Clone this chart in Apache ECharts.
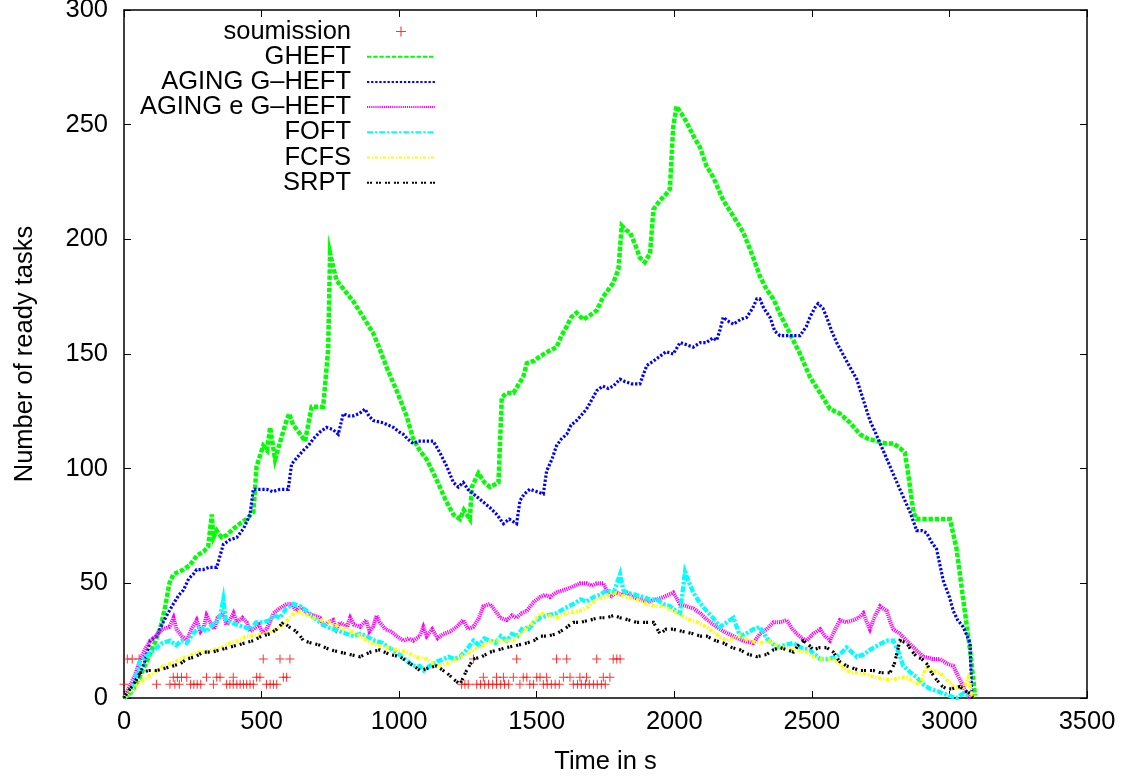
<!DOCTYPE html>
<html>
<head>
<meta charset="utf-8">
<script src="https://cdn.jsdelivr.net/npm/echarts@6/dist/echarts.min.js"></script>
<style>
html,body{margin:0;padding:0;background:#fff;}
#chart{width:1127px;height:776px;}
</style>
</head>
<body>
<div id="chart"></div>
<script>
const seriesNames = ['soumission', 'GHEFT', 'AGING G\u2013HEFT', 'AGING e G\u2013HEFT', 'FOFT', 'FCFS', 'SRPT'];
const xTicks = [0, 500, 1000, 1500, 2000, 2500, 3000, 3500];
const yTicks = [0, 50, 100, 150, 200, 250, 300];

const soumission = [
  [12,17],[30,17],[55,17],[72,17],[506,17],[567,17],[603,17],[1270,17],[1427,17],[1572,17],[1609,17],[1718,17],[1778,17],[1791,17],[1803,17],
  [179,9],[194,9],[209,9],[228,9],[300,9],[337,9],[349,9],[397,9],[482,9],[494,9],[579,9],[591,9],[1306,9],[1354,9],[1379,9],[1415,9],[1451,9],[1464,9],[1500,9],[1512,9],[1536,9],[1597,9],[1621,9],[1657,9],[1681,9],[1742,9],[1766,9],
  [0,6],[118,6],[167,6],[185,6],[201,6],[242,6],[254,6],[266,6],[279,6],[325,6],[373,6],[385,6],[397,6],[410,6],[422,6],[434,6],[446,6],[458,6],[470,6],[518,6],[531,6],[543,6],[555,6],
  [1227,6],[1239,6],[1251,6],[1282,6],[1296,6],[1311,6],[1325,6],[1340,6],[1354,6],[1369,6],[1383,6],[1398,6],[1439,6],[1475,6],[1488,6],[1524,6],[1538,6],[1553,6],[1567,6],[1582,6],[1633,6],[1648,6],[1662,6],[1677,6],[1691,6],[1706,6],[1720,6],[1735,6],[1749,6]
];

const gheft = [[0,0],[30,3],[60,10],[90,18],[115,25],[135,32],[150,40],[165,50],[180,54],[216,56],[240,58],[264,62],[290,64],[306,66],[319,80],[325,70],[337,73],[355,70],[373,71],[400,74],[421,76],[445,78],[470,81],[482,101],[506,110],[520,108],[531,118],[549,104],[573,114],[591,121],[600,124],[615,119],[635,116],[658,112],[682,127],[724,127],[742,152],[749,194],[760,188],[773,182],[800,178],[833,173],[870,166],[906,159],[930,152],[955,144],[991,134],[1027,123],[1051,113],[1075,108],[1100,104],[1125,98],[1148,92],[1170,86],[1197,80],[1221,78],[1235,82],[1257,78],[1264,92],[1288,98],[1310,94],[1330,92],[1361,94],[1373,131],[1390,133],[1415,133],[1451,140],[1464,146],[1490,147],[1512,149],[1540,151],[1572,153],[1590,158],[1609,162],[1625,166],[1645,168],[1669,165],[1695,167],[1718,169],[1742,175],[1760,178],[1778,181],[1797,187],[1809,206],[1825,204],[1839,203],[1860,197],[1875,192],[1893,190],[1912,194],[1924,213],[1948,217],[1972,220],[1984,222],[1996,249],[2008,258],[2025,255],[2045,251],[2070,245],[2094,240],[2117,232],[2142,227],[2178,217],[2215,210],[2251,203],[2287,192],[2311,184],[2336,178],[2360,174],[2390,166],[2420,159],[2457,150],[2493,140],[2530,133],[2566,126],[2602,124],[2639,120],[2675,115],[2705,113],[2736,112],[2770,111],[2796,111],[2820,109],[2838,107],[2851,97],[2869,81],[2880,78],[2905,78],[2950,78],[3002,78],[3026,65],[3050,43],[3075,21],[3093,1]];

const agingGheft = [[0,0],[30,5],[55,10],[76,16],[95,25],[119,27],[142,33],[160,37],[179,41],[200,45],[216,47],[235,52],[252,54],[264,56],[288,56],[310,57],[337,57],[361,67],[385,69],[410,70],[435,74],[458,80],[470,91],[494,91],[518,91],[540,90],[567,91],[597,91],[609,102],[630,105],[652,108],[670,110],[688,113],[712,116],[736,118],[760,117],[779,115],[797,124],[815,123],[833,123],[855,124],[876,126],[890,123],[906,121],[942,120],[979,118],[1000,116],[1015,115],[1030,113],[1051,111],[1070,112],[1088,112],[1124,112],[1148,107],[1173,101],[1197,94],[1215,92],[1233,94],[1250,91],[1270,89],[1300,86],[1330,83],[1355,80],[1379,76],[1400,78],[1427,76],[1439,86],[1455,89],[1475,91],[1500,90],[1524,89],[1536,99],[1555,104],[1572,110],[1590,113],[1609,115],[1625,119],[1645,121],[1660,123],[1681,126],[1700,130],[1718,134],[1740,136],[1760,135],[1778,136],[1803,139],[1820,138],[1845,137],[1875,137],[1900,145],[1925,147],[1948,149],[1970,151],[1996,150],[2021,155],[2045,154],[2069,153],[2095,155],[2117,155],[2140,157],[2154,156],[2165,160],[2178,166],[2200,164],[2215,163],[2240,165],[2263,166],[2285,170],[2300,174],[2311,174],[2325,170],[2348,166],[2365,160],[2384,158],[2420,158],[2457,158],[2480,162],[2493,166],[2510,170],[2523,172],[2540,170],[2554,166],[2572,160],[2590,155],[2626,147],[2663,139],[2687,130],[2711,121],[2730,116],[2748,111],[2784,101],[2820,91],[2857,81],[2881,73],[2900,73],[2917,72],[2935,68],[2953,65],[2978,51],[3000,44],[3014,38],[3030,34],[3050,31],[3075,24],[3081,1]];

const agingEGheft = [[0,0],[20,5],[40,10],[60,17],[80,22],[95,25],[115,27],[140,30],[165,31],[180,35],[191,30],[210,27],[228,25],[245,30],[264,34],[278,29],[290,31],[300,36],[313,33],[327,30],[340,35],[360,37],[372,32],[385,34],[398,37],[410,33],[430,35],[446,33],[458,29],[470,30],[490,32],[505,28],[518,30],[530,33],[543,37],[565,39],[591,41],[610,41],[625,38],[640,40],[665,37],[690,36],[712,35],[727,31],[740,33],[760,34],[772,30],[785,33],[810,31],[822,35],[835,32],[858,31],[880,34],[892,29],[905,31],[918,36],[930,33],[950,30],[970,29],[991,27],[1015,25],[1035,26],[1051,25],[1075,27],[1088,31],[1100,27],[1120,30],[1140,26],[1161,28],[1185,29],[1209,31],[1233,34],[1250,30],[1270,31],[1290,35],[1306,40],[1330,41],[1350,38],[1367,35],[1391,34],[1410,36],[1427,35],[1445,37],[1464,38],[1490,42],[1512,44],[1530,45],[1548,44],[1570,46],[1597,47],[1620,48],[1640,49],[1657,50],[1680,50],[1700,49],[1718,50],[1742,50],[1766,44],[1790,46],[1810,45],[1827,46],[1850,44],[1875,43],[1900,42],[1936,43],[1960,44],[1996,46],[2021,41],[2045,40],[2070,39],[2094,37],[2120,34],[2154,31],[2180,29],[2215,27],[2250,25],[2287,24],[2311,28],[2336,30],[2360,33],[2384,33],[2408,34],[2430,30],[2445,28],[2465,26],[2481,25],[2505,28],[2530,30],[2548,27],[2566,25],[2585,30],[2602,34],[2625,33],[2651,34],[2670,35],[2687,37],[2700,33],[2711,30],[2730,36],[2748,40],[2760,39],[2772,38],[2785,33],[2796,30],[2820,28],[2845,25],[2870,22],[2905,18],[2940,17],[2966,17],[2990,15],[3014,14],[3038,8],[3062,2],[3075,0]];

const foft = [[0,0],[22,2],[40,8],[58,16],[80,18],[100,20],[119,22],[140,24],[167,25],[190,23],[210,25],[228,24],[250,28],[276,31],[300,29],[320,32],[337,33],[350,36],[361,43],[370,34],[385,33],[410,32],[434,31],[460,30],[480,33],[506,33],[530,34],[545,36],[567,35],[590,39],[615,41],[640,40],[664,38],[690,35],[712,33],[736,31],[760,30],[785,29],[809,28],[835,27],[860,28],[882,27],[910,25],[940,24],[960,22],[979,21],[1000,19],[1020,17],[1051,14],[1075,14],[1090,12],[1112,14],[1140,16],[1161,17],[1180,18],[1200,17],[1221,18],[1245,21],[1270,25],[1290,23],[1310,26],[1330,25],[1350,24],[1370,27],[1391,25],[1410,28],[1430,27],[1451,31],[1470,30],[1490,33],[1512,35],[1540,36],[1572,37],[1600,39],[1633,41],[1660,43],[1680,42],[1706,44],[1730,45],[1754,47],[1780,46],[1803,54],[1815,47],[1827,46],[1860,45],[1888,44],[1910,43],[1936,43],[1960,41],[1984,40],[2005,38],[2021,37],[2039,55],[2055,50],[2069,46],[2090,42],[2117,38],[2140,35],[2166,31],[2190,33],[2215,35],[2239,27],[2260,28],[2287,30],[2311,31],[2336,26],[2355,24],[2372,22],[2400,23],[2433,24],[2460,22],[2493,21],[2510,19],[2530,17],[2560,17],[2590,18],[2610,20],[2626,22],[2645,20],[2663,18],[2690,19],[2711,21],[2740,23],[2772,25],[2796,25],[2815,20],[2832,14],[2860,11],[2881,9],[2905,6],[2929,4],[2955,3],[2978,2],[3000,1],[3026,0],[3050,2],[3070,1]];

const fcfs = [[0,0],[22,3],[50,6],[82,9],[110,11],[143,14],[170,15],[203,17],[230,18],[264,20],[295,20],[325,21],[355,22],[385,24],[415,25],[446,27],[475,27],[506,28],[535,29],[567,31],[595,34],[627,38],[650,37],[688,35],[715,34],[749,33],[780,31],[809,30],[845,28],[882,25],[920,23],[955,22],[990,21],[1027,20],[1060,18],[1100,17],[1125,15],[1148,14],[1173,15],[1195,16],[1221,18],[1245,19],[1270,21],[1305,23],[1342,25],[1380,25],[1415,25],[1450,29],[1488,33],[1512,37],[1540,36],[1572,35],[1610,37],[1657,38],[1690,40],[1718,43],[1750,44],[1778,46],[1800,45],[1827,44],[1860,43],[1900,41],[1930,40],[1960,40],[1996,38],[2025,36],[2057,34],[2085,33],[2117,31],[2150,28],[2190,25],[2215,26],[2239,27],[2270,25],[2311,24],[2348,25],[2384,22],[2433,21],[2481,20],[2505,18],[2530,17],[2578,17],[2600,15],[2626,12],[2650,11],[2675,11],[2705,10],[2736,9],[2765,8],[2796,8],[2820,9],[2845,9],[2870,7],[2893,6],[2917,14],[2940,12],[2966,11],[2990,8],[3014,5],[3050,4],[3069,9],[3080,2],[3093,0]];

const srpt = [[0,0],[10,2],[35,6],[58,11],[90,12],[119,12],[150,13],[179,14],[205,15],[228,17],[260,18],[288,20],[320,20],[349,21],[380,22],[410,23],[440,24],[470,25],[500,27],[531,28],[555,30],[579,33],[600,31],[615,30],[635,28],[652,25],[680,24],[712,23],[750,21],[785,20],[820,19],[858,18],[895,20],[930,21],[965,19],[1003,18],[1040,15],[1076,12],[1105,13],[1136,14],[1160,12],[1173,11],[1200,8],[1221,6],[1245,12],[1270,17],[1300,18],[1330,20],[1360,21],[1391,22],[1430,23],[1464,24],[1490,25],[1512,27],[1540,27],[1572,28],[1600,30],[1633,33],[1660,33],[1694,34],[1725,35],[1754,35],[1780,36],[1803,35],[1835,34],[1863,33],[1895,33],[1924,33],[1948,28],[1970,30],[1996,30],[2030,29],[2069,28],[2095,27],[2117,27],[2150,25],[2178,24],[2210,22],[2239,21],[2270,19],[2300,18],[2336,19],[2360,21],[2384,22],[2410,21],[2433,20],[2450,23],[2469,25],[2490,23],[2505,21],[2530,22],[2554,22],[2578,20],[2600,16],[2626,14],[2650,13],[2675,12],[2700,12],[2723,12],[2750,11],[2784,11],[2800,15],[2820,25],[2845,24],[2860,21],[2881,18],[2900,17],[2917,15],[2935,11],[2953,8],[2975,5],[2990,4],[3010,4],[3038,5],[3060,3],[3075,2],[3085,0]];

const FONT = "'Liberation Sans', Arial, Helvetica, sans-serif";
const FS = 25.5;
const chart = echarts.init(document.getElementById('chart'), null, {renderer: 'canvas'});

function lineSeries(name, data, color, width, dash) {
  return {
    name: name, type: 'line', data: data, showSymbol: false, symbol: 'none',
    lineStyle: {color: color, width: width, type: dash, cap: 'butt', join: 'miter'},
    itemStyle: {color: color}, animation: false, z: 2
  };
}
const plusPath = 'path://M4,0h1v4h4v1h-4v4h-1v-4h-4v-1h4z';

const axisCommon = {
  axisLine: {show: true, onZero: false, lineStyle: {color: '#000', width: 1.5}},
  axisTick: {show: true, inside: true, length: 7, lineStyle: {color: '#000', width: 1}},
  splitLine: {show: false}
};

const legendData = seriesNames.map((n, i) => i === 0 ? {name: n} : {name: n, itemStyle: {opacity: 0}});

chart.setOption({
  animation: false,
  backgroundColor: '#fff',
  textStyle: {fontFamily: FONT},
  grid: {left: 124, top: 10, width: 963, height: 688, containLabel: false, outerBoundsMode: 'none'},
  legend: {
    orient: 'vertical', left: 116, top: 13.5, align: 'right',
    itemWidth: 68, itemHeight: 10, itemGap: -0.8,
    data: legendData,
    textStyle: {fontFamily: FONT, fontSize: FS, color: '#000', width: 230, lineHeight: 24.2, padding: [0, 11, 0, 0]},
    selectedMode: false
  },
  xAxis: [
    Object.assign({type: 'value', min: 0, max: 3500, interval: 500, position: 'bottom',
      name: 'Time in s', nameLocation: 'middle', nameGap: 51,
      nameTextStyle: {fontFamily: FONT, fontSize: FS, color: '#000'},
      axisLabel: {fontFamily: FONT, fontSize: FS, color: '#000', margin: 11,
        customValues: xTicks, formatter: v => String(v)}}, axisCommon),
    Object.assign({type: 'value', min: 0, max: 3500, interval: 500, position: 'top',
      axisLabel: {show: false}}, axisCommon)
  ],
  yAxis: [
    Object.assign({type: 'value', min: 0, max: 300, interval: 50, position: 'left',
      name: 'Number of ready tasks', nameLocation: 'middle', nameGap: 86,
      nameTextStyle: {fontFamily: FONT, fontSize: FS, color: '#000'},
      axisLabel: {fontFamily: FONT, fontSize: FS, color: '#000', margin: 16,
        customValues: yTicks, formatter: v => String(v)}}, axisCommon),
    Object.assign({type: 'value', min: 0, max: 300, interval: 50, position: 'right',
      axisLabel: {show: false}}, axisCommon)
  ],
  series: [
    {name: seriesNames[0], type: 'scatter', data: soumission, symbol: plusPath, symbolSize: 9,
      symbolKeepAspect: true, itemStyle: {color: '#ff0000'}, animation: false, z: 1},
    lineSeries(seriesNames[1], gheft, '#00ff00', 4.5, [4.4, 1.8]),
    lineSeries(seriesNames[2], agingGheft, '#0000ff', 3.2, [2.3, 1.8]),
    lineSeries(seriesNames[3], agingEGheft, '#ff00ff', 4, [1.2, 0.9]),
    lineSeries(seriesNames[4], foft, '#00ffff', 4.3, [6, 1.8, 2.5, 1.8]),
    lineSeries(seriesNames[5], fcfs, '#ffff00', 3.6, [3.2, 1.8, 1.2, 1.8]),
    lineSeries(seriesNames[6], srpt, '#000000', 3.2, [2, 1, 2, 4])
  ]
});
</script>
</body>
</html>
